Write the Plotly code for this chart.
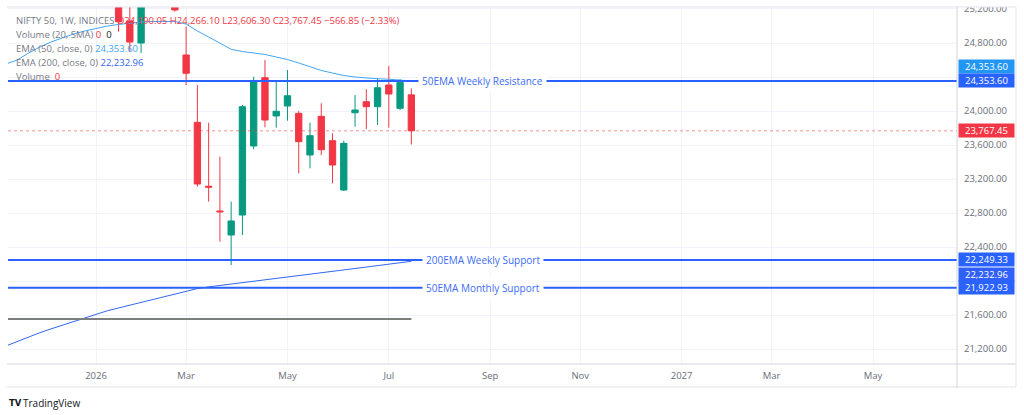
import pandas as pd
import plotly.graph_objects as go

# ---------------- data ----------------
# weekly bars (Monday dates)
ind_weeks = pd.date_range("2025-11-10", "2026-07-20", freq="7D")      # indicator weeks
candle_weeks = pd.date_range("2026-01-19", "2026-07-20", freq="7D")   # candle weeks

open_ = [25280, 25059, 24800, 25400, 25550, 25300, 24659, 23867, 23115, 22825,
         22542, 22777, 23589, 24392, 23942, 24059, 23973, 23483, 23938, 23651,
         23071, 23980, 24110, 24051, 24306, 24032, 24190.05]
high = [25350, 25300, 25450, 25650, 25700, 25350, 24992, 24306, 23863, 23463,
        22934, 24071, 24404, 24600, 24345, 24482, 24000, 23863, 24091, 23738,
        23651, 24188, 24256, 24385, 24530, 24373, 24266.10]
low = [24933, 24694, 24682, 25280, 25250, 25168, 24306, 23110, 22934, 22463,
       22189, 22542, 23550, 23809, 23804, 23886, 23268, 23326, 23483, 23150,
       23060, 23816, 23789, 23836, 23804, 24012, 23606.30]
close = [25050, 24812, 25400, 25550, 25300, 25188, 24444, 23142, 23105, 22815,
         22707, 24051, 24357, 23894, 23997, 24180, 23640, 23710, 23545, 23365,
         23620, 24012, 24051, 24274, 24200, 24334.30, 23767.45]

ema50 = [24553, 24600, 24682, 24753, 24812, 24859, 24906, 24941, 24971, 25000,
         25018, 25035, 25047, 25053, 25053, 25053, 25023, 24941, 24871, 24800,
         24726, 24700, 24686, 24665, 24635, 24606, 24565, 24518, 24477, 24447,
         24418, 24400, 24388, 24380, 24374, 24368, 24353.60]
ema200 = [21237, 21292, 21345, 21393, 21438, 21482, 21528, 21571, 21611, 21651,
          21684, 21717, 21749, 21781, 21814, 21846, 21879, 21912, 21932, 21948,
          21965, 21981, 21998, 22014, 22032, 22048, 22065, 22081, 22099, 22115,
          22132, 22148, 22165, 22183, 22199, 22217, 22232.96]
volume = [0] * len(ind_weeks)

level_names = ["50EMA Weekly Resistance", "200EMA Weekly Support", "50EMA Monthly Support"]
level_values = [24353.60, 22249.33, 21922.93]

price_ticks = [21200, 21600, 22000, 22400, 22800, 23200, 23600, 24000, 24400, 24800, 25200]
# labels hidden by the value boxes on the price scale
price_tick_labels = ["21,200.00", "21,600.00", "", "22,400.00", "22,800.00", "23,200.00",
                     "23,600.00", "24,000.00", "", "24,800.00", "25,200.00"]
time_tick_dates = ["2026-01-05", "2026-03-02", "2026-05-04", "2026-07-06", "2026-09-07",
                   "2026-11-02", "2027-01-04", "2027-03-01", "2027-05-03"]
time_tick_labels = ["2026", "Mar", "May", "Jul", "Sep", "Nov", "2027", "Mar", "May"]

symbol_label = "NIFTY 50, 1W, INDICES"

# ---------------- style ----------------
FONT = "Open Sans"
GREEN = "#089981"
RED = "#f23645"
BLUE = "#2962ff"
LIGHTBLUE = "#42a5f5"
GRAY = "#787b86"
GRID = "#f0f3fa"
FS = 9.5

fig = go.Figure()

fig.add_trace(go.Candlestick(
    x=candle_weeks, open=open_, high=high, low=low, close=close,
    increasing=dict(line=dict(color=GREEN, width=1), fillcolor=GREEN),
    decreasing=dict(line=dict(color=RED, width=1), fillcolor=RED),
    whiskerwidth=0, showlegend=False, hoverinfo="skip"))

fig.add_trace(go.Scatter(x=ind_weeks, y=volume, yaxis="y2", mode="lines",
                         line=dict(color="#7b807e", width=2), showlegend=False,
                         hoverinfo="skip"))
fig.add_trace(go.Scatter(x=ind_weeks, y=ema200, mode="lines",
                         line=dict(color="#3366f5", width=1), showlegend=False,
                         hoverinfo="skip"))
fig.add_trace(go.Scatter(x=ind_weeks, y=ema50, mode="lines",
                         line=dict(color=LIGHTBLUE, width=1), showlegend=False,
                         hoverinfo="skip"))

# pixel helpers for layout (plot area 8..957 x 7..364)
PL, PR, PT, PB = 8, 957, 7, 364
def px_x(px):
    return (px - PL) / (PR - PL)
def px_y(py):
    return (PB - py) / (PB - PT)

base = pd.Timestamp("2026-01-05")
x_start = base + pd.Timedelta(weeks=-7.82)
x_end = base + pd.Timedelta(weeks=76.46)

shapes = []
# cover above chart frame (clips top tick label like the reference)
shapes.append(dict(type="rect", xref="paper", yref="paper", x0=-0.02, x1=1.1,
                   y0=1, y1=1.05, fillcolor="white", line=dict(width=0), layer="above"))
# dotted last price line
shapes.append(dict(type="line", xref="paper", yref="y", x0=0, x1=1,
                   y0=close[-1], y1=close[-1],
                   line=dict(color="rgba(242,54,69,0.55)", width=1, dash="dot"),
                   layer="above"))
# horizontal level lines
for v in level_values:
    shapes.append(dict(type="line", xref="paper", yref="y", x0=0, x1=1, y0=v, y1=v,
                       line=dict(color=BLUE, width=2), layer="above"))
# frame lines
frame = "#e0e3eb"
axisline = "#d1d4dc"
shapes += [
    dict(type="line", xref="paper", yref="paper", x0=px_x(7), x1=px_x(1016),
         y0=1, y1=1, line=dict(color=frame, width=1), layer="above"),
    dict(type="line", xref="paper", yref="paper", x0=px_x(7), x1=px_x(1016),
         y0=0, y1=0, line=dict(color=axisline, width=1), layer="above"),
    dict(type="line", xref="paper", yref="paper", x0=px_x(7), x1=px_x(1016),
         y0=px_y(387), y1=px_y(387), line=dict(color=frame, width=1), layer="above"),
    dict(type="line", xref="paper", yref="paper", x0=1, x1=1,
         y0=1, y1=px_y(388), line=dict(color=axisline, width=1), layer="above"),
    dict(type="line", xref="paper", yref="paper", x0=px_x(1016), x1=px_x(1016),
         y0=1, y1=px_y(387), line=dict(color=frame, width=1), layer="above"),
]

annotations = []
# level labels (centered on the line)
for name, v in zip(level_names, level_values):
    annotations.append(dict(xref="paper", yref="y", x=0.5, y=v, text=name,
                            showarrow=False, bgcolor="white", borderpad=3,
                            font=dict(family=FONT, size=10, color="#3d6cf7")))

# price-axis value boxes
def axis_box(value, color, yshift=0):
    return dict(xref="paper", yref="y", x=1, y=value, xanchor="left", yanchor="middle",
                xshift=1, yshift=yshift, text=f"{value:,.2f}", showarrow=False,
                bgcolor=color, width=53, height=11, borderpad=1, align="center",
                font=dict(family=FONT, size=FS, color="white"))

annotations += [
    axis_box(ema50[-1], "#2196f3", yshift=14),
    axis_box(level_values[0], BLUE),
    axis_box(close[-1], RED),
    axis_box(level_values[1], BLUE),
    axis_box(ema200[-1], "#3060fa", yshift=-13),
    axis_box(level_values[2], BLUE),
]

# legend block (top-left)
def signed(v):
    return ("−" if v < 0 else "+") + f"{abs(v):,.2f}"

chg = close[-1] - close[-2]
pct = chg / close[-2] * 100
NB = "\u00a0"
legend_lines = [
    f'<span style="color:{GRAY}">{symbol_label}</span>{NB}'
    f'<span style="color:{RED}">O{open_[-1]:,.2f}{NB}H{high[-1]:,.2f}{NB}'
    f'L{low[-1]:,.2f}{NB}C{close[-1]:,.2f}{NB}{signed(chg)}{NB}({signed(pct)}%)</span>',
    f'<span style="color:{GRAY}">Volume (20, SMA)</span>{NB}'
    f'<span style="color:{RED}">{volume[-1]}</span>{NB}{NB}'
    f'<span style="color:#131722">{volume[-1]}</span>',
    f'<span style="color:{GRAY}">EMA (50, close, 0)</span>{NB}'
    f'<span style="color:{LIGHTBLUE}">{ema50[-1]:,.2f}</span>',
    f'<span style="color:{GRAY}">EMA (200, close, 0)</span>{NB}'
    f'<span style="color:#3366f5">{ema200[-1]:,.2f}</span>',
    f'<span style="color:{GRAY}">Volume</span>{NB}{NB}'
    f'<span style="color:{RED}">{volume[-1]}</span>',
]
legend_y = [20.7, 34.2, 48.3, 62.2, 76.3]
for txt, yy in zip(legend_lines, legend_y):
    annotations.append(dict(xref="paper", yref="paper", x=0, y=px_y(yy),
                            xanchor="left", yanchor="middle", xshift=6,
                            text=txt, showarrow=False,
                            font=dict(family=FONT, size=FS, color=GRAY)))

# TradingView logo text
annotations.append(dict(xref="paper", yref="paper", x=0, y=px_y(403), xanchor="left",
                        yanchor="middle", xshift=-1, showarrow=False,
                        text='<b>TV</b>',
                        font=dict(family="DejaVu Sans", size=8.5, color="#131722")))
annotations.append(dict(xref="paper", yref="paper", x=0, y=px_y(403), xanchor="left",
                        yanchor="middle", xshift=13, showarrow=False,
                        text='TradingView',
                        font=dict(family=FONT, size=10, color="#131722")))

fig.update_layout(
    template="none",
    width=1024, height=415, autosize=False,
    margin=dict(l=PL, r=1024 - PR, t=PT, b=415 - PB, pad=0, autoexpand=False),
    paper_bgcolor="white", plot_bgcolor="white",
    font=dict(family=FONT, size=FS, color=GRAY),
    showlegend=False,
    boxgap=0.2,
    xaxis=dict(type="date", range=[x_start, x_end], automargin=False,
               tickmode="array", tickvals=time_tick_dates, ticktext=time_tick_labels,
               showgrid=True, gridcolor=GRID, gridwidth=1, zeroline=False,
               showline=False, ticks="", ticklabelstandoff=4,
               tickfont=dict(family=FONT, size=FS, color="#6a6d78"),
               rangeslider=dict(visible=False), fixedrange=True),
    yaxis=dict(side="right", range=[21025, 25223.4], automargin=False,
               tickmode="array", tickvals=price_ticks, ticktext=price_tick_labels,
               showgrid=True, gridcolor=GRID, gridwidth=1, zeroline=False,
               showline=False, ticks="", ticklabelstandoff=6,
               tickfont=dict(family=FONT, size=FS, color="#6a6d78"), fixedrange=True),
    yaxis2=dict(overlaying="y", range=[-0.126, 0.874], visible=False, fixedrange=True),
    shapes=shapes,
    annotations=annotations,
)

fig.write_html("out.html", config={"displayModeBar": False})
